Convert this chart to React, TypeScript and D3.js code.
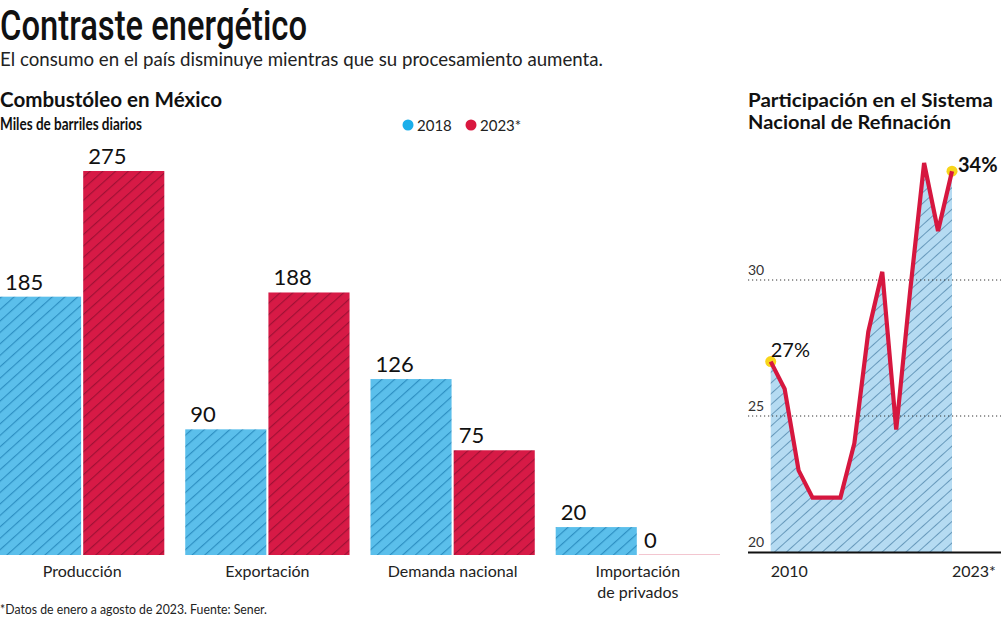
import * as d3 from "d3";

const categories = ["Producción", "Exportación", "Demanda nacional", "Importación de privados"];
const seriesKeys = ["2018", "2023*"];
const values2018 = [185, 90, 126, 20];
const values2023 = [275, 188, 75, 0];

const years = [2010, 2011, 2012, 2013, 2014, 2015, 2016, 2017, 2018, 2019, 2020, 2021, 2022, 2023];
const participation = [27, 26, 23, 22, 22, 22, 24, 28.1, 30.3, 24.5, 29.6, 34.3, 31.8, 34];
const yTicks = [20, 25, 30];

const blue = "#5bbfeb";
const red = "#d71a46";
const font = "Lato, 'Open Sans', sans-serif";

export default function App() {
  // bar chart scales
  const x0 = d3.scaleBand<string>().domain(categories).range([0, 720]).paddingInner(0.113).paddingOuter(0);
  const x1 = d3.scaleBand<string>().domain(seriesKeys).range([0, x0.bandwidth()]).paddingInner(0.025);
  const y = d3.scaleLinear().domain([0, 275]).range([555, 171]);

  // line chart scales
  const lx = d3.scaleLinear().domain([2010, 2023]).range([770.7, 952]);
  const ly = d3.scaleLinear().domain([20, 34]).range([552, 171.2]);

  const lineGen = d3.line<number>().x((_, i) => lx(years[i])).y((d) => ly(d));
  const areaGen = d3.area<number>().x((_, i) => lx(years[i])).y0(ly(20)).y1((d) => ly(d));

  const rows = categories.map((c, i) => [
    { key: seriesKeys[0], value: values2018[i], color: "url(#hatchBlue)" },
    { key: seriesKeys[1], value: values2023[i], color: "url(#hatchRed)" },
  ]);

  return (
    <svg width={1001} height={620} style={{ position: "absolute", left: 0, top: 0, background: "#fff" }} fontFamily={font}>
      <defs>
        <pattern id="hatchBlue" patternUnits="userSpaceOnUse" width={8.5} height={8.5} patternTransform="rotate(-42)">
          <rect width={8.5} height={8.5} fill={blue} />
          <line x1={0} y1={0.6} x2={8.5} y2={0.6} stroke="#2a8cc0" strokeWidth={1.1} />
        </pattern>
        <pattern id="hatchRed" patternUnits="userSpaceOnUse" width={8.5} height={8.5} patternTransform="rotate(-42)">
          <rect width={8.5} height={8.5} fill={red} />
          <line x1={0} y1={0.6} x2={8.5} y2={0.6} stroke="#9c1034" strokeWidth={1.1} />
        </pattern>
        <pattern id="hatchArea" patternUnits="userSpaceOnUse" width={8} height={8} patternTransform="rotate(-42)">
          <rect width={8} height={8} fill="#b5dbf2" />
          <line x1={0} y1={0.5} x2={8} y2={0.5} stroke="#5f92b4" strokeWidth={0.9} />
        </pattern>
      </defs>

      {/* titles */}
      <text x={0} y={40} fontSize={43} fontWeight={500} fontFamily="Roboto, sans-serif" fill="#111" textLength={307} lengthAdjust="spacingAndGlyphs">
        Contraste energético
      </text>
      <text x={0} y={66} fontSize={20} fill="#222" textLength={603} lengthAdjust="spacingAndGlyphs">
        El consumo en el país disminuye mientras que su procesamiento aumenta.
      </text>
      <text x={0} y={107} fontSize={20} fontWeight={700} fill="#111" textLength={222} lengthAdjust="spacingAndGlyphs">
        Combustóleo en México
      </text>
      <text x={0} y={130} fontSize={16.5} fontWeight={700} fill="#111" textLength={142} lengthAdjust="spacingAndGlyphs">
        Miles de barriles diarios
      </text>

      {/* legend */}
      <circle cx={408} cy={125} r={5.5} fill="#1aaeea" />
      <text x={417} y={130.5} fontSize={15} fill="#222">2018</text>
      <circle cx={471} cy={125} r={5.5} fill="#d9173f" />
      <text x={480} y={130.5} fontSize={15} fill="#222">2023*</text>

      {/* bars */}
      {rows.map((row, i) => (
        <g key={categories[i]} transform={`translate(${x0(categories[i])},0)`}>
          {row.map((d) => {
            const bx = x1(d.key) as number;
            return (
              <g key={d.key}>
                {d.value > 0 ? (
                  <rect x={bx} y={y(d.value)} width={x1.bandwidth()} height={y(0) - y(d.value)} fill={d.color} />
                ) : (
                  <line x1={bx} x2={bx + x1.bandwidth()} y1={y(0) - 0.5} y2={y(0) - 0.5} stroke="#f3c6d0" strokeWidth={1} />
                )}
                <text x={bx + 5} y={y(d.value) - 7} fontSize={22} fill="#111">
                  {d.value}
                </text>
              </g>
            );
          })}
        </g>
      ))}

      {/* category labels */}
      {categories.map((c) => {
        const cx = (x0(c) as number) + x0.bandwidth() / 2;
        const parts = c === "Importación de privados" ? ["Importación", "de privados"] : [c];
        return (
          <text key={c} x={cx} y={577} fontSize={16} fill="#222" textAnchor="middle">
            {parts.map((p, j) => (
              <tspan key={p} x={cx} dy={j === 0 ? 0 : 21}>
                {p}
              </tspan>
            ))}
          </text>
        );
      })}

      <text x={0} y={614} fontSize={13} fill="#222" textLength={267} lengthAdjust="spacingAndGlyphs">
        *Datos de enero a agosto de 2023. Fuente: Sener.
      </text>

      {/* right chart */}
      <text x={748} y={107} fontSize={19} fontWeight={700} fill="#111" textLength={245} lengthAdjust="spacingAndGlyphs">
        Participación en el Sistema
      </text>
      <text x={748} y={129} fontSize={19} fontWeight={700} fill="#111" textLength={203} lengthAdjust="spacingAndGlyphs">
        Nacional de Refinación
      </text>

      <path d={areaGen(participation) || ""} fill="url(#hatchArea)" />

      {yTicks.map((t) => (
        <g key={t}>
          {t !== 20 && (
            <line x1={748} x2={1001} y1={ly(t)} y2={ly(t)} stroke="#333" strokeWidth={1} strokeDasharray="1.2 2.8" />
          )}
          <text x={748} y={ly(t) - 5} fontSize={14} fill="#333">
            {t}
          </text>
        </g>
      ))}
      <line x1={748} x2={1001} y1={ly(20) + 0.5} y2={ly(20) + 0.5} stroke="#111" strokeWidth={2} />

      {[0, participation.length - 1].map((i) => (
        <circle key={i} cx={lx(years[i])} cy={ly(participation[i])} r={5.5} fill="#f8d51a" />
      ))}
      <path d={lineGen(participation) || ""} fill="none" stroke="#d6173f" strokeWidth={4.2} strokeLinejoin="miter" />

      <text x={lx(2010)} y={ly(participation[0]) - 5} fontSize={20} fill="#111">
        27%
      </text>
      <text x={lx(2023) + 6} y={172} fontSize={20} fontWeight={700} fill="#111">
        34%
      </text>

      <text x={lx(2010)} y={577} fontSize={16} fill="#222">2010</text>
      <text x={lx(2023)} y={577} fontSize={16} fill="#222">2023*</text>
    </svg>
  );
}
